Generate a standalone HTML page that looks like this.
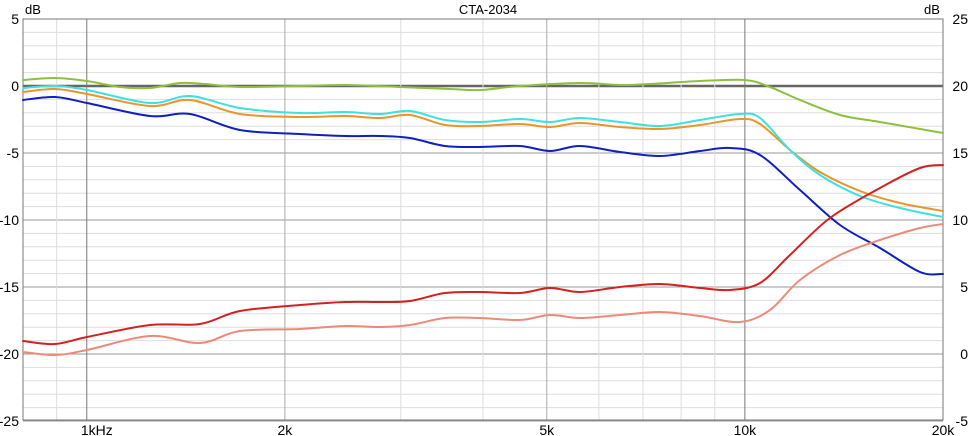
<!DOCTYPE html>
<html><head><meta charset="utf-8"><style>
html,body{margin:0;padding:0;background:#fff;}
svg{display:block;font-family:"Liberation Sans",sans-serif;}
</style></head><body>
<svg id="s" width="976" height="436" xmlns="http://www.w3.org/2000/svg">
<rect width="976" height="436" fill="#fff"/>
<g id="grid"></g>
<g id="curves" fill="none" stroke-width="2" stroke-linejoin="round" stroke-linecap="round"></g>
<g font-size="14" fill="#000">
<text x="488" y="14" text-anchor="middle" font-size="13">CTA-2034</text>
<text x="25" y="14" font-size="13">dB</text>
<text x="924" y="14" font-size="13">dB</text>
</g>
<g id="labels" font-size="14" fill="#000"></g>
</svg>
<script>
const L=23,R=943,T=19,B=420;
const X=f=>L+(Math.log10(f/800))/Math.log10(25)*(R-L);
const Y=d=>86-13.4*d;
const g=document.getElementById('grid'),lab=document.getElementById('labels');
let h='';
for(let d=-25;d<=5;d++){const y=Y(d);const maj=d%5==0;
 h+=`<line x1="${L}" x2="${R}" y1="${y}" y2="${y}" stroke="${d==0?'#666':(maj?'#999':'#ddd')}" stroke-width="${d==0?2.5:1}"/>`;}
const fs=[];for(let f=800;f<=1000;f+=100)fs.push(f);for(let f=2000;f<=10000;f+=1000)fs.push(f);fs.push(20000);
for(const f of fs){const x=X(f);let c='#ddd';if(f==1000||f==10000)c='#777';else if(f==2000||f==5000)c='#aaa';
 h+=`<line x1="${x}" x2="${x}" y1="${T}" y2="${B}" stroke="${c}"/>`;}
h+=`<rect x="${L}" y="${T}" width="${R-L}" height="${B-T}" fill="none" stroke="#777"/>`;
g.innerHTML=h;
let l='';
for(let d=-25;d<=5;d+=5){l+=`<text x="19" y="${Y(d)+5}" text-anchor="end">${d}</text>`;
 l+=`<text x="968" y="${Y(d)+5}" text-anchor="end">${d+20}</text>`;}
[[1000,'1kHz'],[2000,'2k'],[5000,'5k'],[10000,'10k'],[20000,'20k']].forEach(([f,t])=>{l+=`<text x="${X(f)+(f==1000?10:0)}" y="435" text-anchor="middle">${t}</text>`;});
lab.innerHTML=l;
function path(p){let d=`M${p[0]},${p[1]}`;const pts=[];for(let i=0;i<p.length;i+=2)pts.push([p[i],p[i+1]]);
 for(let i=0;i<pts.length-1;i++){const p0=pts[Math.max(0,i-1)],p1=pts[i],p2=pts[i+1],p3=pts[Math.min(pts.length-1,i+2)];
 d+=`C${p1[0]+(p2[0]-p0[0])/6},${p1[1]+(p2[1]-p0[1])/6} ${p2[0]-(p3[0]-p1[0])/6},${p2[1]-(p3[1]-p1[1])/6} ${p2[0]},${p2[1]}`;}return d;}
const C=[
['#8fbf3f',[23,80,55,78,87,81,120,87,150,88,180,83,205,84,240,87,300,86,345,85,400,87,450,89,480,90,520,86,580,83,620,85,650,84,700,81,745,80,770,87,800,100,840,115,880,122,943,133]],
['#e8962a',[23,92,55,89,87,94,150,106,190,100,240,114,300,117,345,116,380,118,410,115,445,125,480,126,520,124,550,127,580,123,620,127,660,129,700,125,740,119,760,124,790,150,820,172,860,191,900,203,943,211]],
['#3fe0e0',[23,88,55,86,87,90,150,103,190,96,240,108,300,113,345,112,380,114,410,111,445,120,480,122,520,119,550,122,580,118,620,122,660,126,700,120,740,114,760,118,790,150,820,175,860,196,900,208,943,217]],
['#1020c0',[23,100,55,97,87,103,150,116,190,114,240,130,300,134,345,136,380,136,410,138,445,146,480,147,520,146,550,151,580,146,620,152,660,156,700,151,730,148,760,155,800,190,840,225,880,248,920,272,943,274]],
['#ec8a7a',[23,352,55,355,87,350,150,336,200,343,240,331,300,329,345,326,380,327,410,325,445,318,480,318,520,320,550,315,580,318,620,315,660,312,700,316,740,322,770,310,800,280,840,255,880,240,920,228,943,224]],
['#d42020',[23,341,55,344,87,337,150,325,200,324,240,311,300,305,345,302,380,302,410,301,445,293,480,292,520,293,550,288,580,292,620,287,660,284,700,288,730,290,760,283,790,255,830,218,880,188,920,168,943,165]]];
let s='';for(const [c,p] of C)s+=`<path d="${path(p)}" stroke="${c}"/>`;
document.getElementById('curves').innerHTML=s;
</script>
</body></html>
